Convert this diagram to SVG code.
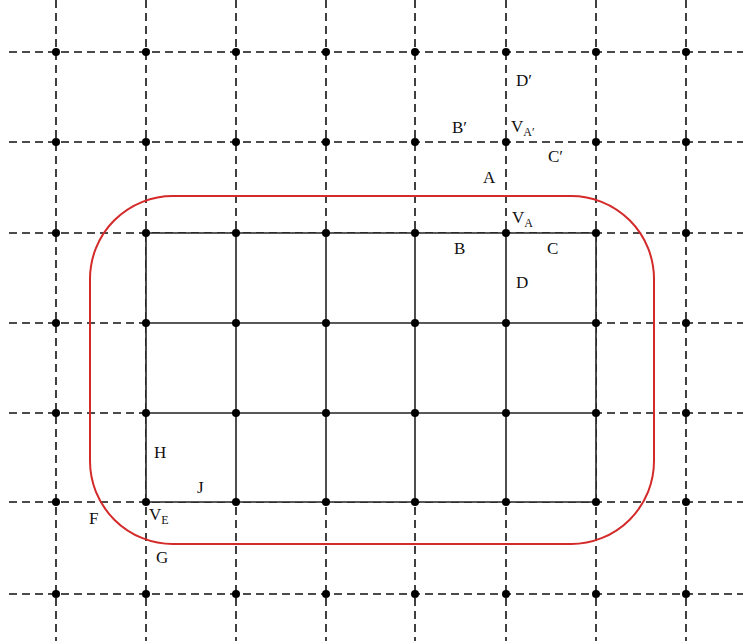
<svg xmlns="http://www.w3.org/2000/svg" width="743" height="641" viewBox="0 0 743 641">
<style>
.d{stroke:#111;stroke-width:1.6;stroke-dasharray:8 5;fill:none}
.s{stroke:#222;stroke-width:1.6;fill:none}
.dot{fill:#000}
.t{font-family:"Liberation Serif","Times New Roman",serif;font-size:17px;fill:#111}
.sub{font-size:12px}
</style>
<rect width="743" height="641" fill="#fff"/>
<g id="connectors">
<g id="dashed">
<path class="d" d="M9 52H743M9 142H743M9 233H743M9 323H743M9 413H743M9 502H743M9 594H743"/>
<path class="d" d="M56 0V641M146 0V641M236 0V641M326 0V641M415 0V641M506 0V641M596 0V641M686 0V641"/>
</g>
<g id="solid">
<rect x="146" y="233" width="450" height="269" fill="#fff" stroke="none"/>
<path class="s" d="M146 233H596M146 323H596M146 413H596M146 502H596"/>
<path class="s" d="M146 233V502M236 233V502M326 233V502M415 233V502M506 233V502M596 233V502"/>
</g>
</g>
<rect id="region" x="90" y="196" width="564" height="348" rx="83" ry="83" fill="none" stroke="#d42a2a" stroke-width="2"/>
<g id="nodes">
<g class="dot">
<circle cx="56" cy="52" r="4"/><circle cx="146" cy="52" r="4"/><circle cx="236" cy="52" r="4"/><circle cx="326" cy="52" r="4"/><circle cx="415" cy="52" r="4"/><circle cx="506" cy="52" r="4"/><circle cx="596" cy="52" r="4"/><circle cx="686" cy="52" r="4"/>
<circle cx="56" cy="142" r="4"/><circle cx="146" cy="142" r="4"/><circle cx="236" cy="142" r="4"/><circle cx="326" cy="142" r="4"/><circle cx="415" cy="142" r="4"/><circle cx="506" cy="142" r="4"/><circle cx="596" cy="142" r="4"/><circle cx="686" cy="142" r="4"/>
<circle cx="56" cy="233" r="4"/><circle cx="146" cy="233" r="4"/><circle cx="236" cy="233" r="4"/><circle cx="326" cy="233" r="4"/><circle cx="415" cy="233" r="4"/><circle cx="506" cy="233" r="4"/><circle cx="596" cy="233" r="4"/><circle cx="686" cy="233" r="4"/>
<circle cx="56" cy="323" r="4"/><circle cx="146" cy="323" r="4"/><circle cx="236" cy="323" r="4"/><circle cx="326" cy="323" r="4"/><circle cx="415" cy="323" r="4"/><circle cx="506" cy="323" r="4"/><circle cx="596" cy="323" r="4"/><circle cx="686" cy="323" r="4"/>
<circle cx="56" cy="413" r="4"/><circle cx="146" cy="413" r="4"/><circle cx="236" cy="413" r="4"/><circle cx="326" cy="413" r="4"/><circle cx="415" cy="413" r="4"/><circle cx="506" cy="413" r="4"/><circle cx="596" cy="413" r="4"/><circle cx="686" cy="413" r="4"/>
<circle cx="56" cy="502" r="4"/><circle cx="146" cy="502" r="4"/><circle cx="236" cy="502" r="4"/><circle cx="326" cy="502" r="4"/><circle cx="415" cy="502" r="4"/><circle cx="506" cy="502" r="4"/><circle cx="596" cy="502" r="4"/><circle cx="686" cy="502" r="4"/>
<circle cx="56" cy="594" r="4"/><circle cx="146" cy="594" r="4"/><circle cx="236" cy="594" r="4"/><circle cx="326" cy="594" r="4"/><circle cx="415" cy="594" r="4"/><circle cx="506" cy="594" r="4"/><circle cx="596" cy="594" r="4"/><circle cx="686" cy="594" r="4"/>
</g>
</g>
<g id="labels">
<text class="t" x="516" y="86">D′</text>
<text class="t" x="452" y="133">B′</text>
<text class="t" x="511" y="132">V<tspan class="sub" dy="4">A′</tspan></text>
<text class="t" x="548" y="162">C′</text>
<text class="t" x="483" y="183">A</text>
<text class="t" x="512" y="223">V<tspan class="sub" dy="4">A</tspan></text>
<text class="t" x="454" y="254">B</text>
<text class="t" x="547" y="254">C</text>
<text class="t" x="516" y="288">D</text>
<text class="t" x="154" y="458">H</text>
<text class="t" x="197" y="493">J</text>
<text class="t" x="89" y="524">F</text>
<text class="t" x="149" y="520">V<tspan class="sub" dy="4">E</tspan></text>
<text class="t" x="156" y="563">G</text>
</g>
</svg>
